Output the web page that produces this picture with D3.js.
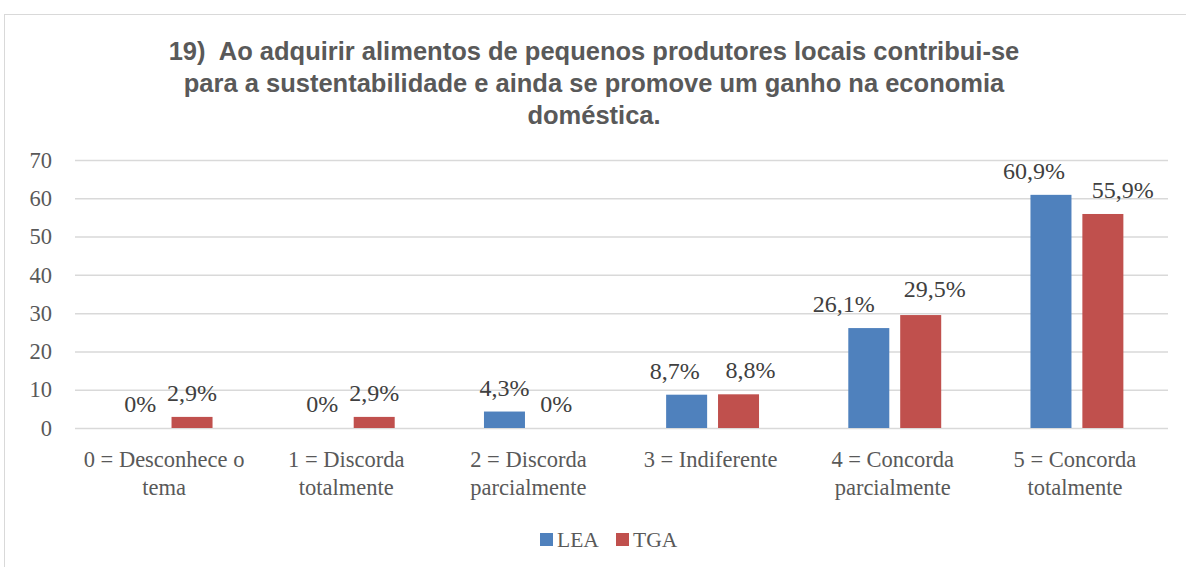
<!DOCTYPE html>
<html>
<head>
<meta charset="utf-8">
<script src="https://cdn.jsdelivr.net/npm/d3@7"></script>
<style>
  body { margin: 0; background: #fff; }
  svg { display: block; }
</style>
</head>
<body>
<div id="chart"></div>
<script>
const categories = [
  "0 = Desconhece o tema",
  "1 = Discorda totalmente",
  "2 = Discorda parcialmente",
  "3 = Indiferente",
  "4 = Concorda parcialmente",
  "5 = Concorda totalmente"
];
const series = ["LEA", "TGA"];
const lea = [0, 0, 4.3, 8.7, 26.1, 60.9];
const tga = [2.9, 2.9, 0, 8.8, 29.5, 55.9];
const yTicks = [0, 10, 20, 30, 40, 50, 60, 70];
const titleLines = [
  "19)  Ao adquirir alimentos de pequenos produtores locais contribui-se",
  "para a sustentabilidade e ainda se promove um ganho na economia",
  "doméstica."
];

const COLORS = { LEA: "#4f81bd", TGA: "#c0504d" };
// labels that were dragged apart in the original so they don't collide
const labelNudge = {
  3: { LEA: [-12, 0], TGA: [12, 0] },
  4: { LEA: [-25, 0], TGA: [14, -2] },
  5: { LEA: [-17, 0], TGA: [20, 0] }
};
const width = 1186;
const height = 567;
const margin = { top: 160, right: 18, bottom: 139, left: 75 };
const serif = "'Liberation Serif', 'Times New Roman', serif";
const sans = "'Liberation Sans', Arial, sans-serif";

const rows = categories.map((c, i) => ({ idx: i, cat: c, LEA: lea[i], TGA: tga[i] }));

const svg = d3.select("#chart")
  .append("svg")
  .attr("width", width)
  .attr("height", height);

// chart frame
svg.append("rect")
  .attr("x", 4.5)
  .attr("y", 14.5)
  .attr("width", 1300)
  .attr("height", 700)
  .attr("fill", "#fff")
  .attr("stroke", "#d9d9d9");

// title
svg.append("text")
  .attr("text-anchor", "middle")
  .attr("font-family", sans)
  .attr("font-weight", "bold")
  .attr("font-size", 25.5)
  .attr("fill", "#595959")
  .style("white-space", "pre")
  .selectAll("tspan")
  .data(titleLines)
  .join("tspan")
  .attr("x", 594)
  .attr("y", (_, i) => 60 + i * 32)
  .text((d) => d);

const x0 = d3.scaleBand()
  .domain(categories)
  .range([margin.left, width - margin.right]);

const bw = x0.bandwidth();
const x1 = d3.scaleBand()
  .domain(series)
  .range([bw * 0.245, bw * 0.755])
  .paddingInner(0.21);

const y = d3.scaleLinear()
  .domain([0, 70])
  .range([height - margin.bottom, margin.top]);

// gridlines + y labels
const yAxis = svg.append("g")
  .attr("transform", `translate(${margin.left},0)`)
  .call(d3.axisLeft(y).tickValues(yTicks).tickSize(-(width - margin.left - margin.right)).tickPadding(23));
yAxis.select(".domain").remove();
yAxis.selectAll(".tick line").attr("stroke", "#d9d9d9").attr("stroke-width", 1.5);
yAxis.selectAll(".tick text")
  .attr("font-family", serif)
  .attr("font-size", 22.5)
  .attr("fill", "#595959");

// bars
const groups = svg.append("g")
  .selectAll("g")
  .data(rows)
  .join("g")
  .attr("transform", (d) => `translate(${x0(d.cat)},0)`);

groups.selectAll("rect")
  .data((d) => series.map((s) => ({ key: s, value: d[s] })))
  .join("rect")
  .attr("x", (d) => x1(d.key))
  .attr("y", (d) => y(d.value))
  .attr("width", x1.bandwidth())
  .attr("height", (d) => y(0) - y(d.value))
  .attr("fill", (d) => COLORS[d.key]);

// value labels
const fmt = (v) => String(v).replace(".", ",") + "%";
groups.selectAll("text")
  .data((d) => series.map((s) => ({ key: s, value: d[s], idx: d.idx })))
  .join("text")
  .attr("x", (d) => {
    const n = labelNudge[d.idx];
    return x1(d.key) + x1.bandwidth() / 2 + (n ? n[d.key][0] : 0);
  })
  .attr("y", (d) => {
    const n = labelNudge[d.idx];
    return y(d.value) - 16 + (n ? n[d.key][1] : 0);
  })
  .attr("text-anchor", "middle")
  .attr("font-family", serif)
  .attr("font-size", 24)
  .attr("fill", "#404040")
  .text((d) => fmt(d.value));

// category labels (wrapped)
function wrapLines(text, maxW) {
  const words = text.split(" ");
  const ctx = document.createElement("canvas").getContext("2d");
  ctx.font = "22.5px 'Liberation Serif'";
  const lines = [];
  let line = "";
  words.forEach((w) => {
    const test = line ? line + " " + w : w;
    if (ctx.measureText(test).width > maxW && line) {
      lines.push(line);
      line = w;
    } else {
      line = test;
    }
  });
  lines.push(line);
  return lines;
}

svg.append("g")
  .selectAll("text")
  .data(categories)
  .join("text")
  .attr("text-anchor", "middle")
  .attr("font-family", serif)
  .attr("font-size", 22.5)
  .attr("fill", "#595959")
  .each(function (d) {
    const t = d3.select(this);
    wrapLines(d, bw - 4).forEach((ln, i) => {
      t.append("tspan")
        .attr("x", x0(d) + bw / 2 - 2)
        .attr("y", 467 + i * 28)
        .text(ln);
    });
  });

// legend
const legend = svg.append("g")
  .selectAll("g")
  .data(series)
  .join("g")
  .attr("transform", (_, i) => `translate(${540 + i * 76},533)`);
legend.append("rect")
  .attr("width", 13)
  .attr("height", 13)
  .attr("fill", (d) => COLORS[d]);
legend.append("text")
  .attr("x", 17)
  .attr("y", 14)
  .attr("font-family", serif)
  .attr("font-size", 21.5)
  .attr("fill", "#595959")
  .text((d) => d);
</script>
</body>
</html>
